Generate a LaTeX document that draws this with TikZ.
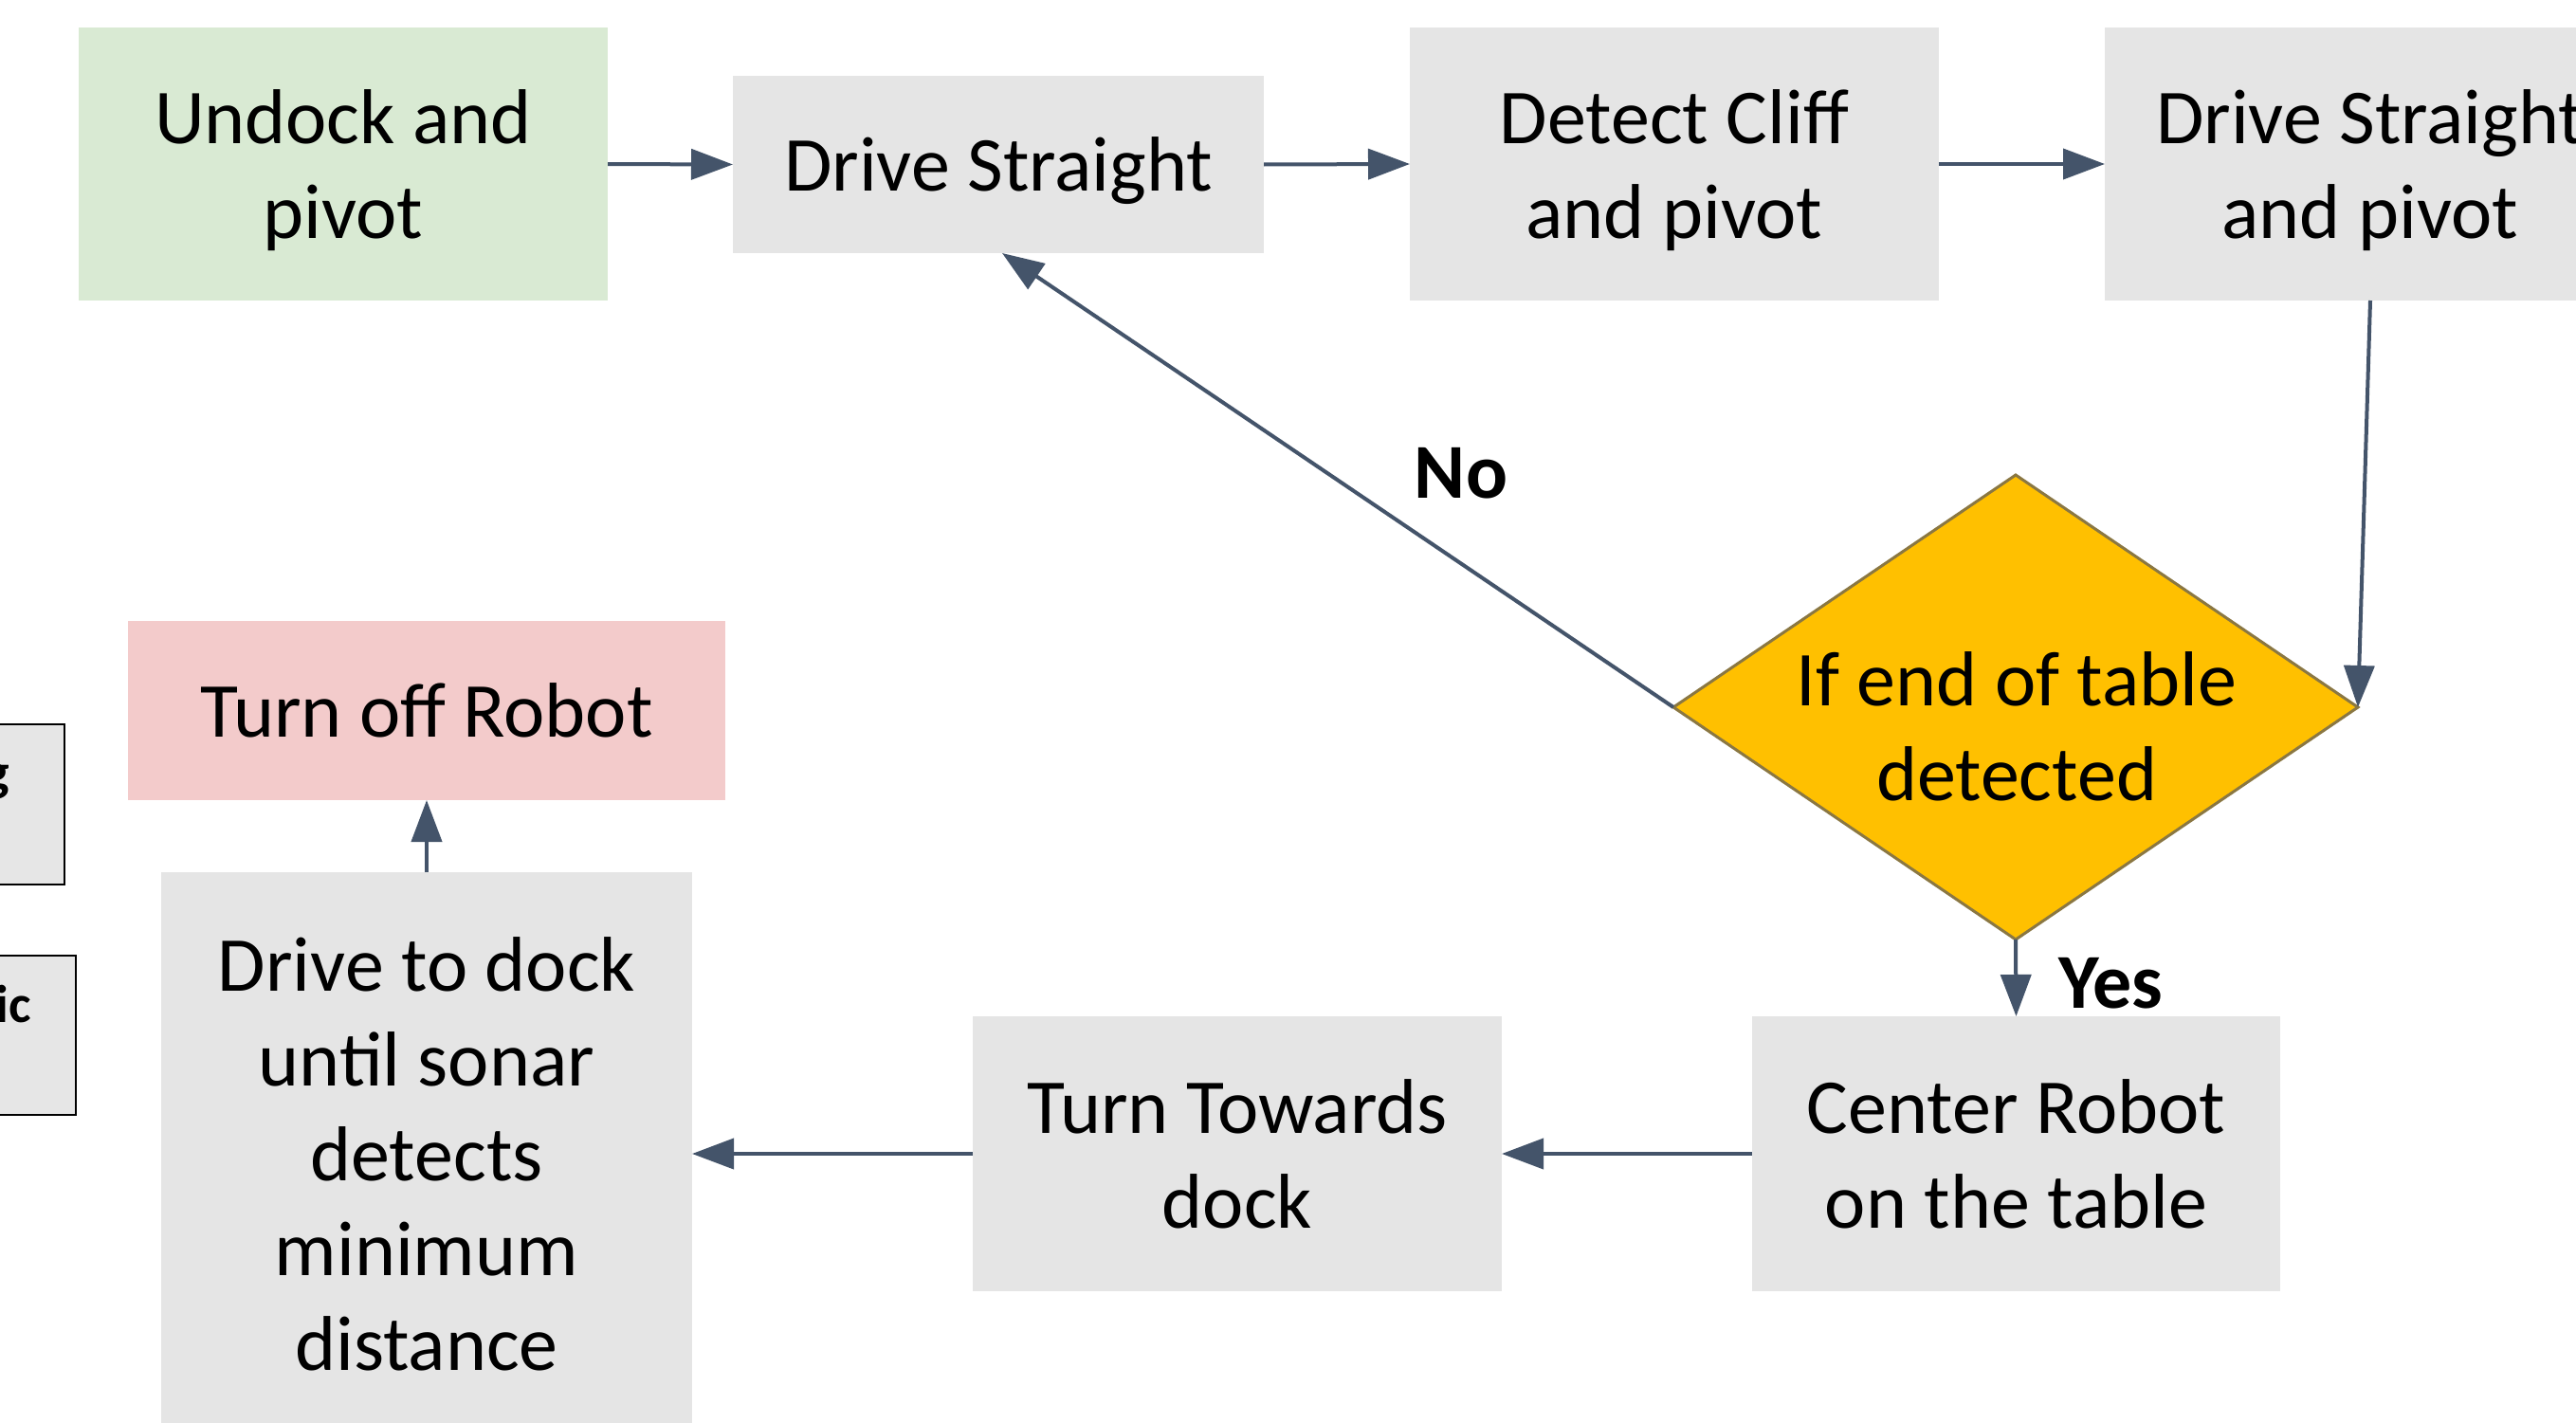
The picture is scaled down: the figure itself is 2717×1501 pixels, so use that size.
\documentclass[tikz,border=0pt]{standalone}
\usepackage{fontspec}
\setmainfont{Carlito}
\usetikzlibrary{arrows.meta,shapes.geometric}

\definecolor{startgreen}{HTML}{D9EAD3}
\definecolor{stepgray}{HTML}{E5E5E5}
\definecolor{stoppink}{HTML}{F3CBCB}
\definecolor{decisiongold}{HTML}{FFC000}
\definecolor{decisionedge}{HTML}{8A7742}
\definecolor{flowline}{HTML}{44546A}
\definecolor{sidegray}{HTML}{E6E6E6}

\begin{document}
\begin{tikzpicture}[x=1pt,y=-1pt,
  every node/.style={inner sep=0pt, outer sep=0pt},
  boxtext/.style={align=center, text depth=0pt, font=\fontsize{82}{100}\selectfont},
  procbox/.style={boxtext, fill=stepgray, minimum width=558pt, minimum height=288pt},
  startbox/.style={procbox, fill=startgreen},
  stopbox/.style={procbox, fill=stoppink},
  decbox/.style={diamond, fill=decisiongold, draw=decisionedge, line width=3pt,
                 minimum width=722pt, minimum height=490pt},
  sidebox/.style={fill=sidegray, draw=black, line width=2.5pt, minimum width=300pt},
  sidetext/.style={font=\fontsize{56}{60}\selectfont\bfseries},
  tag/.style={font=\fontsize{82}{100}\selectfont\bfseries, text depth=0pt},
  flow/.style={draw=flowline, line width=4pt, -{Triangle[length=44pt,width=32pt]}}
]
\useasboundingbox (0,0) rectangle (2717,1501);
\fill[white] (0,0) rectangle (2717,1501);
\clip (0,0) rectangle (2717,1501);

% side boxes cut off at the left edge
\node[sidebox, minimum height=169pt, anchor=north east] (sideA) at (68,764) {};
\node[sidebox, minimum height=168pt, anchor=north east] (sideB) at (80,1008) {};
\node[sidetext, anchor=base east] (sideAtxt) at (10,833) {g};
\node[sidetext, anchor=base east] (sideBtxt) at (33,1078) {ic};

% top row
\node[startbox] (und) at (362,173) {Undock and\\pivot};
\node[procbox, minimum width=560pt, minimum height=187pt] (ds) at (1053,173.5) {Drive Straight};
\node[procbox] (dc) at (1766,173) {Detect Cliff\\and pivot};
\node[procbox, minimum width=560pt] (dsp) at (2500,173) {Drive Straight\\and pivot};

% decision
\node[decbox] (dec) at (2126,746) {};
\node[boxtext] (dectxt) at (2127,766) {If end of table\\detected};

% bottom row
\node[procbox, minimum width=557pt, minimum height=290pt] (cr) at (2126.5,1217) {Center Robot\\on the table};
\node[procbox, minimum height=290pt] (tt) at (1305,1217) {Turn Towards\\dock};
\node[procbox, minimum width=560pt, minimum height=594pt] (dd) at (450,1217)
  {Drive to dock\\until sonar\\detects\\minimum\\distance};
\node[stopbox, minimum width=630pt, minimum height=189pt] (to) at (450,749.5) {Turn off Robot};

% branch labels
\node[tag] (nolbl) at (1541,499) {No};
\node[tag] (yeslbl) at (2226,1037) {Yes};

% connectors
\draw[flow] (und.east) -- (ds.west);
\draw[flow] (ds.east) -- (dc.west);
\draw[flow] (dc.east) -- (dsp.west);
\draw[flow] (dsp.south) -- (dec.east);
\draw[flow] (dec.west) -- ([xshift=4pt]ds.south);
\draw[flow] (dec.south) -- (cr.north);
\draw[flow] (cr.west) -- (tt.east);
\draw[flow] (tt.west) -- (dd.east);
\draw[flow] (dd.north) -- (to.south);
\end{tikzpicture}
\end{document}
